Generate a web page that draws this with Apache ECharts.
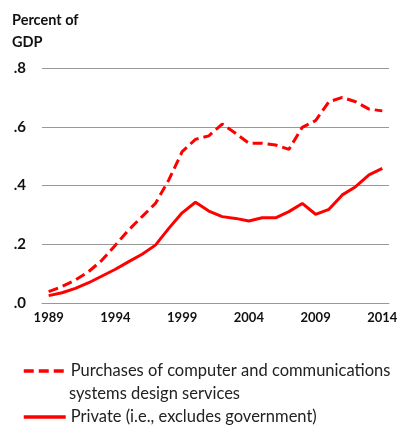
<!DOCTYPE html>
<html><head><meta charset="utf-8">
<script src="https://cdn.jsdelivr.net/npm/echarts@6/dist/echarts.min.js"></script>
<style>html,body{margin:0;padding:0;background:#fff}#c{width:402px;height:430px}</style>
</head><body><div id="c"></div>
<script>
var years = ['1989','1990','1991','1992','1993','1994','1995','1996','1997','1998','1999','2000','2001','2002','2003','2004','2005','2006','2007','2008','2009','2010','2011','2012','2013','2014'];
var purchases = [0.039,0.056,0.078,0.107,0.146,0.197,0.249,0.294,0.339,0.419,0.515,0.557,0.569,0.609,0.578,0.544,0.544,0.538,0.523,0.598,0.621,0.685,0.700,0.685,0.660,0.654];
var privateS = [0.025,0.035,0.050,0.069,0.092,0.115,0.141,0.166,0.197,0.254,0.307,0.343,0.313,0.294,0.288,0.279,0.290,0.290,0.311,0.339,0.302,0.319,0.368,0.396,0.436,0.458];
var yTicks = ['.0','.2','.4','.6','.8'];
var names = ['Purchases of computer and communications\nsystems design services','Private (i.e., excludes government)'];
var font = 'Lato, "Open Sans", sans-serif';
function leg(name, top){
  return {orient:'vertical',left:17,top:top,itemWidth:42,itemHeight:14,itemGap:8,
    itemStyle:{opacity:0},
    lineStyle:{width:3.5},
    formatter:function(n){return n.split('\n')[0];},
    textStyle:{fontFamily:font,fontSize:16.5,color:'#222',lineHeight:22},
    data:[name]};
}
var chart = echarts.init(document.getElementById('c'));
chart.setOption({
  animation:false,
  title:{text:'Percent of\nGDP',left:7,top:4,textStyle:{fontFamily:font,fontSize:14.5,fontWeight:'bold',color:'#111',lineHeight:22}},
  grid:{left:42,right:13,top:68,bottom:127},
  xAxis:{type:'category',data:years,boundaryGap:true,
    axisLine:{lineStyle:{color:'#999',width:1}},
    axisTick:{interval:0,length:6,lineStyle:{color:'#999'}},
    axisLabel:{interval:4,color:'#111',fontFamily:font,fontWeight:'bold',fontSize:13,margin:8}},
  yAxis:{type:'value',min:0,max:0.8,interval:0.2,
    axisLine:{show:false},axisTick:{show:false},
    splitLine:{lineStyle:{color:'#999',width:1}},
    axisLabel:{color:'#111',fontFamily:font,fontWeight:'bold',fontSize:15,margin:16,
      formatter:function(v){return yTicks[Math.round(v/0.2)];}}},
  legend:[leg(names[0],355),leg(names[1],401)],
  graphic:[{type:'text',left:69,top:385,style:{text:names[0].split('\n')[1],font:'16.5px Lato, "Open Sans", sans-serif',fill:'#222'}}],
  series:[
    {name:names[0],type:'line',data:purchases,symbol:'none',lineStyle:{color:'#ff0000',width:3,type:[10,5]},itemStyle:{color:'#ff0000'}},
    {name:names[1],type:'line',data:privateS,symbol:'none',lineStyle:{color:'#ff0000',width:3},itemStyle:{color:'#ff0000'}}
  ]
});
</script></body></html>
